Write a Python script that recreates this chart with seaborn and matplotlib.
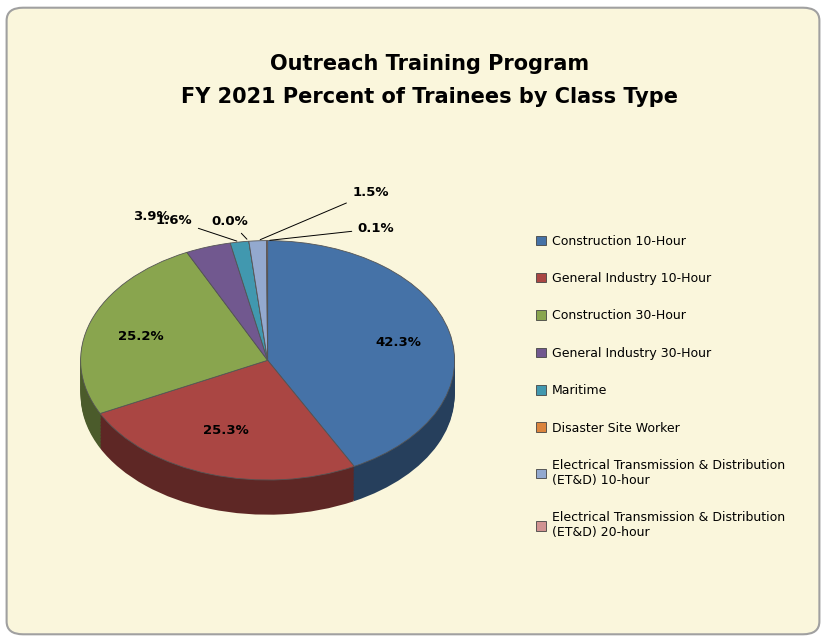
import numpy as np
import matplotlib
matplotlib.use("Agg")
import matplotlib.pyplot as plt
from matplotlib.patches import FancyBboxPatch, Patch
import seaborn as sns

categories = ["Construction 10-Hour", "General Industry 10-Hour", "Construction 30-Hour",
              "General Industry 30-Hour", "Maritime", "Disaster Site Worker",
              "Electrical Transmission & Distribution\n(ET&D) 10-hour",
              "Electrical Transmission & Distribution\n(ET&D) 20-hour"]
values = [42.3, 25.3, 25.2, 3.9, 1.6, 0.0, 1.5, 0.1]
labels = ["42.3%", "25.3%", "25.2%", "3.9%", "1.6%", "0.0%", "1.5%", "0.1%"]
colors = ["#4572a7", "#aa4643", "#89a54e", "#71588f", "#4198af", "#db843d", "#93a9cf", "#d19392"]

sns.set_theme(style="white")
fig = plt.figure(figsize=(8.26, 6.42), dpi=100)
fig.patch.set_facecolor("white")
bg = FancyBboxPatch((0.008, 0.012), 0.984, 0.976, boxstyle="round,pad=0,rounding_size=0.02",
                    transform=fig.transFigure, facecolor="#faf6dc", edgecolor="#a0a0a0", lw=1.5,
                    zorder=-10)
fig.patches.append(bg)

fig.text(0.52, 0.9, "Outreach Training Program", ha="center", va="center", color="black",
         fontsize=15, fontweight="bold", family="DejaVu Sans")
fig.text(0.52, 0.849, "FY 2021 Percent of Trainees by Class Type", ha="center", va="center",
         color="black", fontsize=15, fontweight="bold", family="DejaVu Sans")

ax = fig.add_axes([0.041, 0.14, 0.566, 0.523])
ax.set_zorder(5)
ax.set_facecolor("none")
aspect = 0.64
depth = 0.29
dark = [tuple(c * 0.55 for c in matplotlib.colors.to_rgb(col)) for col in colors]
for k in np.linspace(-depth, 0, 25)[:-1]:
    ax.pie(values, colors=dark, startangle=90, counterclock=False, center=(0, k),
           radius=1, wedgeprops=dict(linewidth=0), normalize=True)
ax.pie(values, colors=colors, startangle=90, counterclock=False, center=(0, 0), radius=1,
       wedgeprops=dict(linewidth=0.6, edgecolor="#555555"), normalize=True)
ax.set_xlim(-1.25, 1.25)
ax.set_ylim(-1.6, 1.2)
ax.set_aspect(aspect, adjustable="box")
ax.axis("off")

total = sum(values)
cum = 0
small_pos = {4: (-0.5, 1.17), 5: (-0.2, 1.16), 6: (0.55, 1.4), 7: (0.58, 1.1)}
for i, v in enumerate(values):
    mid = 90 - (cum + v / 2) / total * 360
    cum += v
    a = np.deg2rad(mid)
    x, y = np.cos(a), np.sin(a)
    if v > 5:
        ax.text(0.72 * x, 0.62 * y, labels[i], ha="center", va="center", color="black",
                fontsize=9.5, fontweight="bold")
    elif i == 3:
        ax.text(-0.62, 1.2, labels[i], ha="center", va="center", color="black",
                fontsize=9.5, fontweight="bold")
    else:
        tx, ty = small_pos[i]
        ax.annotate(labels[i], xy=(x, y), xytext=(tx, ty), ha="center", va="center",
                    fontsize=9.5, fontweight="bold", color="black",
                    arrowprops=dict(arrowstyle="-", color="black", lw=0.7))

handles = [Patch(facecolor=c, edgecolor="#444444", lw=0.6) for c in colors]
fig.legend(handles, categories, loc="upper left", bbox_to_anchor=(0.635, 0.652), frameon=False,
           fontsize=9, labelspacing=1.95, handlelength=0.8, handleheight=0.8, handletextpad=0.5,
           labelcolor="black")

fig.savefig("out.png", dpi=100)
